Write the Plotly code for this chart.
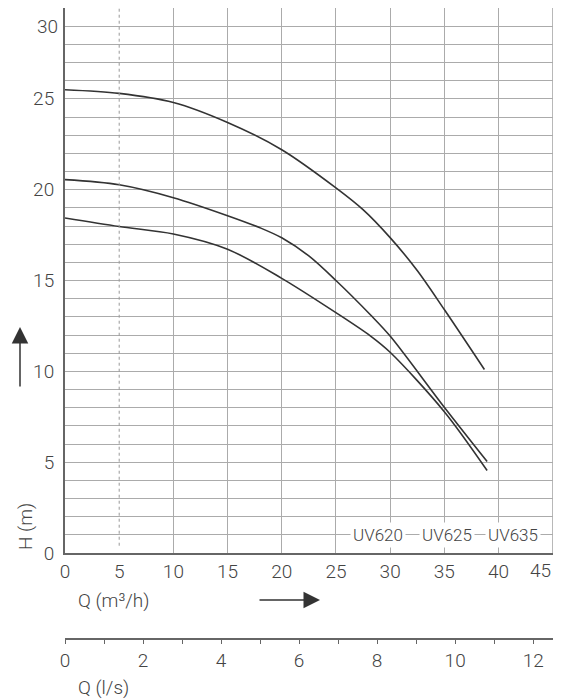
import plotly.graph_objects as go

# ---- data ----
q_uv635 = [0, 5, 10, 15, 20, 25, 27.5, 30, 32.5, 35, 38.7]
h_uv635 = [25.5, 25.3, 24.8, 23.7, 22.2, 20.1, 18.9, 17.36, 15.55, 13.4, 10.1]

q_uv625 = [0, 5, 10, 15, 18, 20, 22.5, 25, 28.2, 30, 35, 38.95]
h_uv625 = [20.55, 20.27, 19.56, 18.57, 17.9, 17.35, 16.35, 15.0, 13.1, 11.94, 8.02, 5.03]

q_uv620 = [0, 5, 10, 15, 20, 25, 28.2, 30, 35, 38.95]
h_uv620 = [18.44, 17.97, 17.56, 16.72, 15.12, 13.23, 11.94, 11.05, 7.78, 4.54]

x_ticks = [0, 5, 10, 15, 20, 25, 30, 35, 40]
x_grid = [10, 15, 20, 25, 30, 35, 40, 45]
y_ticks = [0, 5, 10, 15, 20, 25]
ls_ticks = [0, 2, 4, 6, 8, 10, 12]
model_names = ["UV620", "UV625", "UV635"]
model_label_q = [28.86, 35.23, 41.31]
ref_q = 5
q_max = 45.03
h_max = 30
ls_max = q_max / 3.6

# page body has an 8px margin -> figure is drawn 8px right/down
OFF = 8
W, H = 560, 692
ML, MR, MT, MB = 57, 15, 0, 60
PW = W - ML - MR
PH = H - MT - MB


def px(xp):
    return (xp - OFF - ML) / PW


def py(yp):
    return (H - MB - (yp - OFF)) / PH


tick_font = dict(family="Roboto, Liberation Sans, Arial", size=19, color="#444", weight=300)
label_font = dict(family="Roboto, Liberation Sans, Arial", size=17, color="#444", weight=300)
grid_col = "#ababab"
axis_col = "#666"
curve_col = "#333"

fig = go.Figure()

for name, qs, hs in [("UV620", q_uv620, h_uv620), ("UV625", q_uv625, h_uv625), ("UV635", q_uv635, h_uv635)]:
    fig.add_trace(go.Scatter(x=qs, y=hs, mode="lines", name=name,
                             line=dict(color=curve_col, width=1.6, shape="spline", smoothing=0.9),
                             showlegend=False))

# reference dashed line at Q = 5
fig.add_trace(go.Scatter(x=[ref_q, ref_q], y=[0.4, h_max], mode="lines",
                         line=dict(color="#999", width=1, dash="3px,3px"),
                         showlegend=False, hoverinfo="skip"))

# trace for secondary (l/s) axis
fig.add_trace(go.Scatter(x=[0, ls_max], y=[None, None], xaxis="x2", mode="lines",
                         showlegend=False, hoverinfo="skip"))

y_dom0 = py(553)

fig.update_layout(
    width=W, height=H,
    margin=dict(l=ML, r=MR, t=MT, b=MB, pad=0),
    paper_bgcolor="white", plot_bgcolor="white",
    font=tick_font,
    xaxis=dict(range=[0, q_max], tickmode="array", tickvals=x_ticks,
               ticktext=[str(v) for v in x_ticks], showgrid=False,
               showline=True, linecolor=axis_col, linewidth=2, zeroline=False,
               ticks="", tickfont=tick_font, ticklabelstandoff=0,
               minor=dict(tickmode="array", tickvals=x_grid, showgrid=True,
                          gridcolor=grid_col, gridwidth=1, ticks="")),
    yaxis=dict(domain=[y_dom0, 1], range=[0, h_max], tickmode="array", tickvals=y_ticks,
               ticktext=[str(v) for v in y_ticks], showgrid=True, gridcolor=grid_col,
               gridwidth=1, showline=True, linecolor=axis_col, linewidth=2,
               zeroline=False, ticks="", tickfont=tick_font, ticklabelstandoff=5,
               minor=dict(dtick=1, tick0=0, showgrid=True, gridcolor=grid_col,
                          gridwidth=1, ticks="")),
    xaxis2=dict(overlaying="x", anchor="free", position=0.001, side="bottom",
                range=[0, ls_max], tickmode="array", tickvals=ls_ticks,
                ticktext=[str(v) for v in ls_ticks], showgrid=False,
                showline=True, linecolor=axis_col, linewidth=1.5, zeroline=False,
                ticks="outside", ticklen=4, tickwidth=1.2, tickcolor=axis_col,
                tickfont=tick_font,
                minor=dict(dtick=1, tick0=0, ticks="outside", ticklen=4,
                           tickwidth=1.2, tickcolor=axis_col, showgrid=False)),
)

# right border of the grid (Q = 45)
fig.add_shape(type="line", xref="x", yref="y", x0=45, x1=45, y0=0, y1=h_max,
              line=dict(color=grid_col, width=1), layer="below")

ann = []
# model labels on the 1 m gridline
for nm, qx in zip(model_names, model_label_q):
    ann.append(dict(x=qx, y=1, xref="x", yref="y", text=nm, showarrow=False,
                    font=label_font, bgcolor="white", borderpad=2,
                    xanchor="center", yanchor="middle"))
# "30" and "45" edge labels (shifted inside like the original)
ann.append(dict(x=0, y=h_max, xref="paper", yref="y", text="30", showarrow=False,
                font=tick_font, xanchor="right", yanchor="middle", xshift=-5, yshift=-18))
ann.append(dict(x=45, y=0, xref="x", yref="y", text="45", showarrow=False,
                font=tick_font, xanchor="right", yanchor="middle", yshift=-17))
# axis titles
ann.append(dict(x=px(76), y=py(600), xref="paper", yref="paper", text="Q (m³/h)",
                showarrow=False, font=tick_font, xanchor="left", yanchor="middle"))
ann.append(dict(x=px(76), y=py(687), xref="paper", yref="paper", text="Q (l/s)",
                showarrow=False, font=tick_font, xanchor="left", yanchor="middle"))
ann.append(dict(x=px(25), y=py(527), xref="paper", yref="paper", text="H (m)",
                showarrow=False, font=tick_font, textangle=-90,
                xanchor="center", yanchor="middle"))
# arrows
ann.append(dict(x=px(20), y=py(327), xref="paper", yref="paper", text="",
                showarrow=True, ax=0, ay=61, arrowhead=2, arrowsize=2.2,
                arrowwidth=1.5, arrowcolor="#333"))
ann.append(dict(x=px(320), y=py(600), xref="paper", yref="paper", text="",
                showarrow=True, ax=-62, ay=0, arrowhead=2, arrowsize=2.2,
                arrowwidth=1.5, arrowcolor="#333"))
fig.update_layout(annotations=ann)

fig.write_html("out.html")
